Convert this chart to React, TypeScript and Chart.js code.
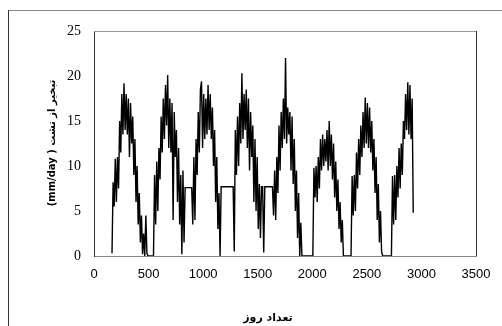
import React, { useEffect, useRef } from "react";
import { Chart, registerables } from "chart.js";

Chart.register(...registerables);

// Day numbers of the sampled readings (every 10th day from day 165)
const startDay = 165;
const dayStep = 10;

// Pan evaporation (mm/day), one value per 10 days
const evap1 = [0.3, 8.2, 5.5, 10.8, 6.0, 11.0, 7.5, 15.0, 11.5, 18.0];
const evap2 = [13.5, 19.2, 14.0, 18.0, 13.5, 17.5, 11.0, 17.0, 12.5, 15.5];
const evap3 = [9.0, 13.0, 6.0, 10.0, 3.5, 7.0, 1.5, 4.5, 0.2, 2.5];
const evap4 = [0.0, 4.5, 0.3, 0, 0, 0, 0, 0, 0, 9.0];
const evap5 = [3.5, 10.5, 5.0, 12.0, 8.5, 15.5, 11.5, 17.5, 13.0, 19.0];
const evap6 = [14.5, 20.1, 12.0, 17.5, 11.5, 17.0, 4.0, 16.0, 11.0, 14.0];
const evap7 = [6.0, 12.0, 3.5, 9.0, 0.2, 9.5, 1.5, 7.6, 7.6, 7.6];
const evap8 = [7.6, 7.6, 7.6, 7.6, 3.5, 11.0, 4.0, 13.0, 9.0, 16.0];
const evap9 = [11.5, 18.5, 19.4, 12.0, 18.0, 13.0, 17.5, 13.5, 19.0, 14.0];
const evap10 = [18.0, 13.0, 16.5, 10.0, 14.0, 6.0, 11.0, 3.0, 7.0, 0.0];
const evap11 = [7.7, 7.7, 7.7, 7.7, 7.7, 7.7, 7.7, 7.7, 7.7, 7.7];
const evap12 = [7.7, 7.7, 0.5, 14.0, 9.0, 15.5, 10.0, 17.0, 12.5, 20.3];
const evap13 = [13.0, 18.0, 14.0, 18.5, 12.0, 17.5, 9.5, 16.0, 11.0, 14.5];
const evap14 = [6.0, 13.0, 5.0, 11.0, 3.0, 8.0, 2.0, 7.7, 7.7, 0.4];
const evap15 = [7.7, 7.7, 7.7, 7.7, 7.7, 7.7, 7.7, 7.7, 4.5, 9.5];
const evap16 = [4.0, 11.0, 7.0, 14.5, 9.5, 16.0, 12.0, 17.5, 13.0, 22.0];
const evap17 = [12.5, 16.5, 13.5, 16.0, 9.5, 15.5, 8.0, 13.0, 5.0, 9.5];
const evap18 = [2.0, 7.0, 0.0, 3.7, 0, 0, 0, 0, 0, 0];
const evap19 = [0, 0, 0, 0, 0, 9.8, 6.5, 10.0, 6.0, 11.0];
const evap20 = [7.5, 13.0, 9.5, 13.5, 10.0, 13.0, 10.5, 14.0, 9.5, 15.0];
const evap21 = [10.0, 13.5, 8.5, 12.5, 6.5, 10.5, 5.0, 8.5, 3.0, 6.0];
const evap22 = [1.5, 4.0, 0, 0, 0, 0, 0, 0, 0, 0];
const evap23 = [8.9, 4.5, 9.0, 5.0, 11.5, 7.5, 13.0, 9.0, 14.5, 11.0];
const evap24 = [16.0, 12.0, 17.6, 12.5, 17.0, 12.0, 16.5, 11.5, 15.0, 9.5];
const evap25 = [13.0, 7.0, 11.0, 4.0, 8.0, 1.5, 5.0, 0.5, 0, 0];
const evap26 = [0, 0, 0, 0, 0, 0, 0, 8.9, 3.5, 9.0];
const evap27 = [4.0, 10.0, 6.5, 12.0, 7.5, 12.5, 9.0, 15.0, 13.0, 18.0];
const evap28 = [14.0, 19.3, 13.5, 19.0, 13.0, 17.5, 4.8];

const evapValues = [
  ...evap1, ...evap2, ...evap3, ...evap4, ...evap5, ...evap6, ...evap7,
  ...evap8, ...evap9, ...evap10, ...evap11, ...evap12, ...evap13, ...evap14,
  ...evap15, ...evap16, ...evap17, ...evap18, ...evap19, ...evap20, ...evap21,
  ...evap22, ...evap23, ...evap24, ...evap25, ...evap26, ...evap27, ...evap28,
];

const xTicks = [0, 500, 1000, 1500, 2000, 2500, 3000, 3500];
const yTicks = [0, 5, 10, 15, 20, 25];

const xTitle = "تعداد روز";
const yTitle = "(mm/day ) تبخیر از تشت";

const W = 502;
const H = 326;

export default function App() {
  const ref = useRef<HTMLCanvasElement | null>(null);

  useEffect(() => {
    const canvas = ref.current;
    if (!canvas) return;
    const points = evapValues.map((v, i) => ({ x: startDay + i * dayStep, y: v }));

    const framePlugin = {
      id: "frame",
      beforeDraw(chart: any) {
        const c = chart.ctx;
        c.save();
        c.fillStyle = "#fff";
        c.fillRect(0, 0, W, H);
        c.lineWidth = 1;
        c.strokeStyle = "#8a8a8a";
        c.beginPath();
        c.moveTo(8, 10.5);
        c.lineTo(W, 10.5);
        c.stroke();
        c.strokeStyle = "#333";
        c.beginPath();
        c.moveTo(8.5, 10);
        c.lineTo(8.5, H);
        c.stroke();
        c.restore();
      },
      afterDraw(chart: any) {
        const c = chart.ctx;
        const a = chart.chartArea;
        c.save();
        c.lineWidth = 1;
        c.strokeStyle = "#999";
        c.beginPath();
        c.moveTo(a.left, a.top + 0.5);
        c.lineTo(a.right, a.top + 0.5);
        c.stroke();
        c.strokeStyle = "#333";
        c.beginPath();
        c.moveTo(a.right + 0.5, a.top);
        c.lineTo(a.right + 0.5, a.bottom);
        c.stroke();

        c.fillStyle = "#000";
        c.font = "bold 11px 'DejaVu Sans'";
        c.textAlign = "center";
        c.textBaseline = "middle";
        c.fillText(xTitle, 268, 318);

        c.translate(52, 143);
        c.rotate(-Math.PI / 2);
        c.font = "bold 10px 'DejaVu Sans'";
        c.fillText(yTitle, 0, 0);
        c.restore();
      },
    };

    const chart = new Chart(canvas, {
      type: "line",
      data: {
        datasets: [
          {
            data: points,
            borderColor: "#000",
            borderWidth: 1.4,
            pointRadius: 0,
            tension: 0,
            fill: false,
          },
        ],
      },
      options: {
        animation: false,
        responsive: false,
        devicePixelRatio: 1,
        layout: { padding: { left: 0, top: 31, right: 26, bottom: 0 } },
        plugins: { legend: { display: false }, tooltip: { enabled: false }, title: { display: false } },
        scales: {
          x: {
            type: "linear",
            min: 0,
            max: 3500,
            afterFit: (s: any) => {
              s.height = H - 256;
            },
            afterBuildTicks: (s: any) => {
              s.ticks = xTicks.map((v) => ({ value: v }));
            },
            ticks: {
              color: "#000",
              padding: 11,
              maxRotation: 0,
              autoSkip: false,
              callback: (v: any) => String(v),
              font: { family: "'Liberation Sans'", size: 13 },
            },
            grid: { display: false, drawTicks: false },
            border: { color: "#888", width: 1 },
          },
          y: {
            min: 0,
            max: 25,
            afterFit: (s: any) => {
              s.width = 94;
            },
            afterBuildTicks: (s: any) => {
              s.ticks = yTicks.map((v) => ({ value: v }));
            },
            ticks: {
              color: "#000",
              padding: 13,
              callback: (v: any) => String(v),
              font: { family: "'Liberation Serif'", size: 14 },
            },
            grid: { display: false, drawTicks: false },
            border: { color: "#333", width: 1 },
          },
        },
      },
      plugins: [framePlugin],
    });
    return () => chart.destroy();
  }, []);

  return (
    <div style={{ position: "fixed", left: 0, top: 0, width: W, height: H, background: "#fff" }}>
      <canvas ref={ref} width={W} height={H} style={{ display: "block", width: W, height: H }} />
    </div>
  );
}
